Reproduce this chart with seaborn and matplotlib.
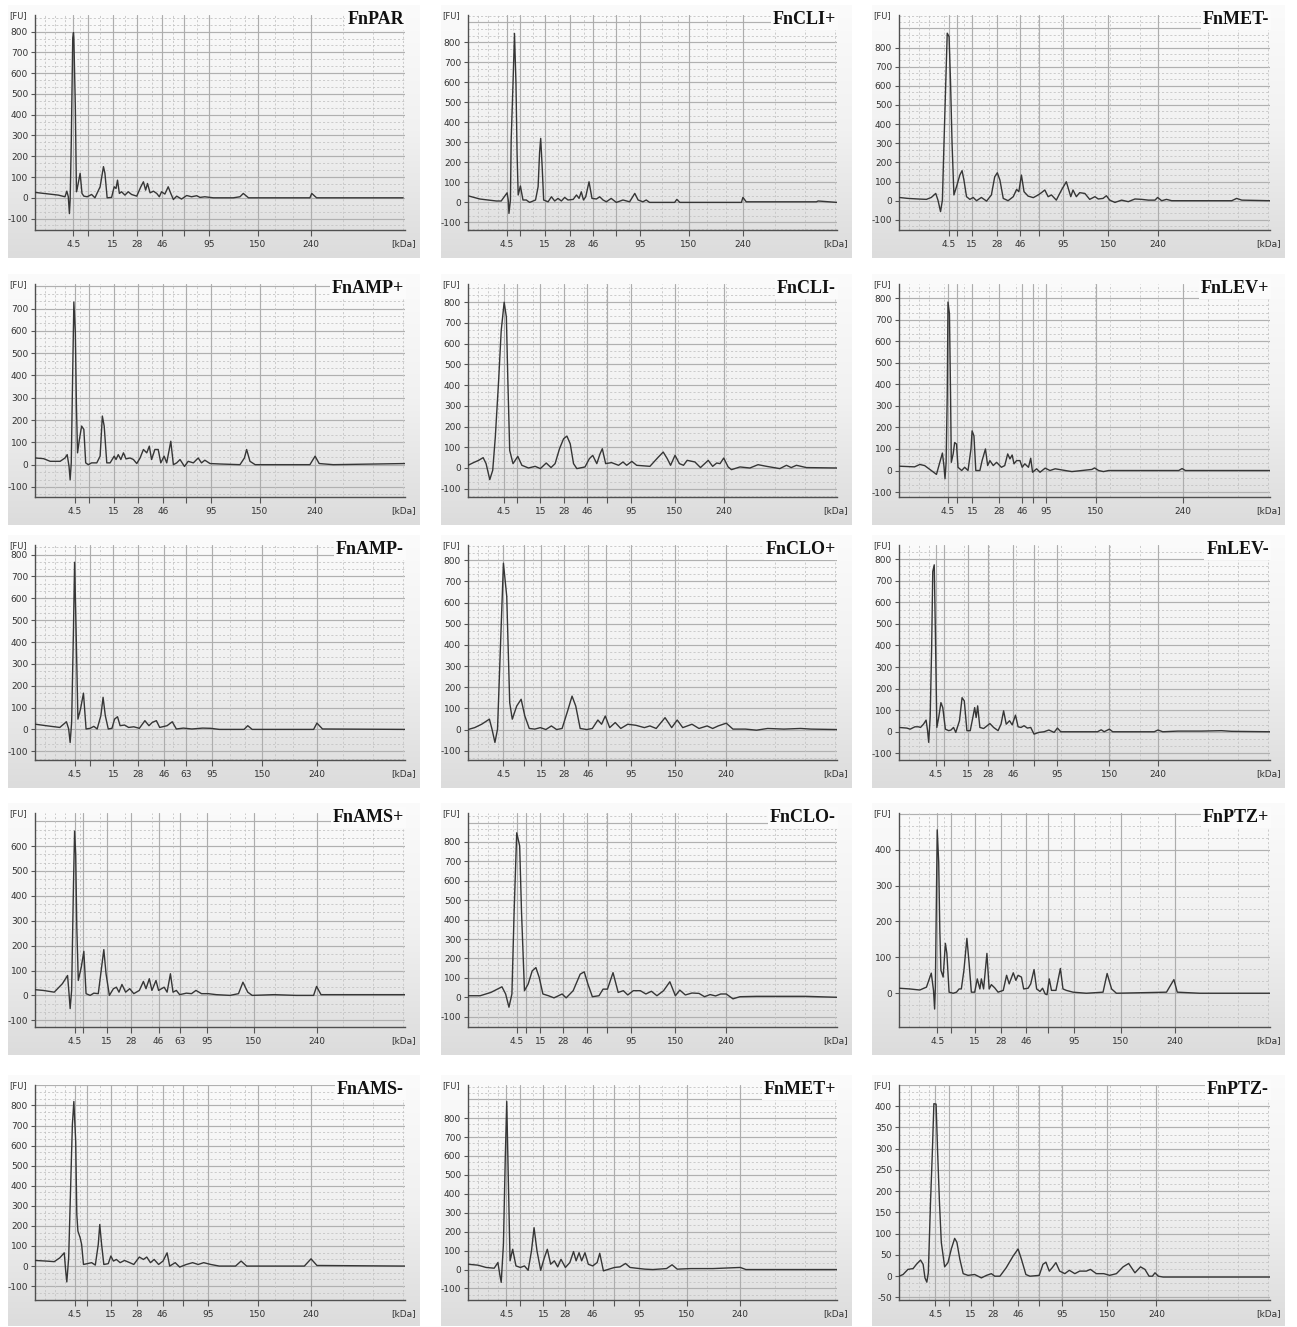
import numpy as np
import pandas as pd
import matplotlib
matplotlib.use("Agg")
import matplotlib.pyplot as plt
import seaborn as sns
from matplotlib.colors import LinearSegmentedColormap

sns.set_theme(style="white")
plt.rcParams["font.family"] = ["DejaVu Sans"]

# ---------------- data (migration position in % of run, fluorescence [FU]) -------------
fnpar = [(0,26),(6.3,13),(8.1,5),(8.6,32),(9.0,5),(9.3,-76),(9.5,-11),(9.8,263),(10.2,770),(10.4,795),(10.5,771),(10.9,440),(11.2,29),(11.5,53),(12.2,118),(12.7,21),(13.2,8),(14.1,5),(15.3,16),(16.2,0),(17.6,53),(18.5,150),(18.9,118),(19.5,0),(20.7,2),(21.4,53),(21.9,45),(22.3,85),(22.8,21),(23.4,29),(24.3,13),(25.2,29),(26.1,16),(27.5,8),(28.6,53),(29.3,77),(29.9,37),(30.4,69),(31.1,24),(32.0,32),(32.9,21),(33.6,5),(34.2,29),(35.1,18),(36.0,53),(36.7,21),(37.4,-8),(38.3,8),(39.6,-6),(41.0,11),(42.3,5),(43.7,10),(44.6,2),(45.9,5),(48.2,0),(53.6,0),(55.4,5),(56.3,21),(57.7,0),(74.3,0),(74.8,21),(76.1,0),(99.5,0)]
fncli_p = [(0,33),(3.2,17),(5.4,12),(7.7,7),(9.0,7),(10.6,48),(10.9,12),(11.1,-55),(11.5,12),(11.7,312),(12.2,595),(12.6,845),(13.0,595),(13.3,245),(13.6,37),(14.2,82),(14.9,12),(15.8,12),(16.7,0),(18.3,12),(19.0,78),(19.4,250),(19.7,320),(20.1,178),(20.5,12),(21.7,3),(22.6,28),(23.5,7),(24.4,20),(25.3,7),(26.2,25),(27.1,12),(28.5,15),(29.4,37),(30.1,20),(30.7,53),(31.3,12),(31.9,28),(32.8,103),(33.6,20),(34.8,17),(35.7,28),(36.6,12),(37.5,3),(38.8,20),(40.2,0),(42.0,12),(43.8,3),(45.2,45),(46.1,12),(47.4,3),(48.3,12),(49.2,0),(56.0,0),(56.6,15),(57.4,0),(74.1,0),(74.5,25),(75.4,3),(94.4,3),(94.9,7),(100,0)]
fnmet_m = [(0,17),(2.4,12),(5.1,9),(7.4,7),(8.7,17),(9.9,38),(10.5,3),(11.2,-57),(11.7,3),(12.1,282),(12.6,613),(13.0,875),(13.5,857),(13.9,613),(14.3,300),(14.8,30),(15.5,73),(16.4,134),(17.0,157),(17.5,108),(18.2,21),(19.1,7),(20.0,17),(20.9,0),(22.2,17),(23.6,-2),(24.9,30),(25.8,125),(26.5,146),(27.2,108),(28.1,12),(29.4,0),(30.8,21),(31.7,59),(32.3,47),(33.0,134),(33.7,47),(34.8,24),(36.2,16),(37.5,30),(38.4,42),(39.3,56),(40.2,21),(41.1,30),(42.4,3),(43.8,56),(45.1,99),(46.3,21),(46.9,56),(47.8,21),(48.7,42),(50.1,38),(51.4,7),(52.8,21),(53.7,9),(55.0,12),(55.9,26),(56.8,3),(58.2,-9),(60.0,3),(61.8,-5),(63.6,9),(65.4,7),(67.2,3),(69.0,3),(69.7,17),(70.8,0),(72.1,7),(73.5,0),(89.7,0),(91.0,12),(92.4,3),(100,0)]
fnamp_p = [(0,30),(2.3,27),(4.1,15),(6.8,15),(8.1,30),(8.7,45),(9.2,-8),(9.5,-68),(9.8,8),(10.1,323),(10.5,729),(10.9,594),(11.2,263),(11.5,53),(12.0,113),(12.6,173),(13.2,158),(13.7,8),(14.4,0),(15.3,8),(16.7,8),(17.6,38),(18.2,218),(18.7,173),(19.4,8),(20.3,8),(21.4,38),(21.9,23),(22.5,45),(23.2,23),(23.9,53),(24.6,26),(25.7,30),(26.6,23),(27.5,5),(28.4,30),(29.3,68),(30.2,53),(30.9,83),(31.5,23),(32.4,68),(33.3,68),(34.0,8),(34.9,38),(35.6,8),(36.7,105),(37.4,0),(38.3,8),(39.2,23),(40.4,-8),(41.4,15),(42.8,8),(44.1,30),(45.0,8),(45.9,20),(47.3,5),(50.0,3),(55.4,0),(56.6,30),(57.2,68),(58.1,15),(59.5,0),(74.3,0),(75.7,38),(76.8,5),(80.6,0),(100,5)]
fncli_m = [(0,13),(1.5,26),(2.9,37),(4.1,50),(4.9,21),(5.9,-56),(6.7,-11),(7.4,149),(8.3,422),(9.0,663),(9.8,800),(10.4,728),(10.8,422),(11.3,85),(12.2,21),(13.5,56),(14.6,13),(16.4,0),(18.2,8),(19.6,-3),(21.2,24),(22.5,2),(23.6,21),(24.8,93),(25.9,141),(26.8,154),(27.7,117),(28.6,21),(29.5,-3),(31.7,5),(32.9,45),(33.8,61),(34.9,21),(35.8,69),(36.4,93),(37.3,21),(38.9,26),(40.8,13),(42.0,29),(43.0,13),(44.4,32),(45.7,13),(49.3,8),(51.6,53),(52.9,77),(54.0,45),(54.9,13),(56.1,61),(57.3,21),(58.4,13),(59.4,37),(61.5,29),(63.0,2),(65.1,37),(66.3,8),(67.4,24),(68.3,21),(69.3,48),(70.5,5),(71.4,-8),(73.7,5),(76.4,0),(78.6,16),(80.9,8),(84.5,-3),(86.3,13),(87.6,2),(89.0,13),(91.7,2),(100,0)]
fnlev_p = [(0,20),(4.2,17),(5.6,28),(6.9,23),(8.7,0),(10.1,-18),(11.0,38),(11.7,81),(12.1,23),(12.4,-38),(12.7,38),(13.0,345),(13.2,782),(13.6,728),(13.9,345),(14.1,38),(14.6,77),(15.0,130),(15.5,123),(15.9,15),(16.9,0),(17.7,15),(18.6,0),(19.4,100),(19.7,184),(20.2,161),(20.7,0),(21.8,0),(22.4,46),(23.3,100),(23.9,23),(24.5,46),(25.4,23),(26.3,38),(27.6,15),(28.5,23),(29.3,77),(29.9,54),(30.5,72),(31.0,31),(31.7,46),(32.6,46),(33.2,15),(33.9,31),(34.9,15),(35.5,57),(36.0,-8),(37.1,8),(38.0,-8),(39.4,11),(40.7,0),(42.1,8),(44.8,0),(46.6,-5),(49.3,0),(52.0,5),(52.7,12),(53.8,0),(55.1,-5),(56.5,0),(75.4,0),(76.3,9),(77.2,0),(100,0)]
fnamp_m = [(0,24),(3.0,17),(6.7,9),(8.5,35),(9.1,2),(9.5,-60),(9.9,32),(10.4,460),(10.7,765),(11.1,460),(11.6,47),(12.3,93),(13.1,166),(13.8,2),(14.9,5),(15.9,14),(16.8,2),(17.8,63),(18.4,147),(19.0,63),(19.8,2),(20.8,5),(21.5,47),(22.3,58),(23.0,17),(24.2,20),(25.3,9),(26.7,12),(28.2,5),(29.7,40),(30.8,17),(31.7,32),(32.8,40),(33.7,9),(35.7,17),(37.1,35),(38.2,2),(40.1,6),(42.4,2),(45.3,6),(47.5,5),(49.8,0),(56.5,0),(57.5,17),(58.7,0),(75.3,0),(76.2,29),(77.7,2),(100,0)]
fnclo_p = [(0,0),(1.8,9),(3.7,25),(5.8,49),(6.5,2),(7.3,-61),(8.0,2),(8.8,394),(9.6,786),(10.5,629),(11.3,127),(12.0,49),(13.2,111),(14.4,143),(15.4,64),(16.6,5),(18.1,2),(19.6,9),(21.1,0),(22.6,17),(24.0,0),(25.5,5),(27.0,88),(28.2,158),(29.2,111),(30.4,5),(32.2,0),(33.7,5),(35.2,45),(36.2,25),(37.2,64),(38.4,9),(39.9,33),(41.4,5),(43.3,25),(45.5,20),(47.8,9),(49.3,17),(51.0,5),(53.4,56),(55.2,9),(56.7,45),(58.2,9),(60.7,25),(62.6,5),(64.8,17),(66.3,5),(67.8,17),(70.0,30),(71.8,2),(75.2,2),(78.2,-3),(81.2,5),(85.6,2),(90.1,5),(93.0,2),(100,0)]
fnlev_m = [(0,20),(2.1,17),(3.0,12),(4.3,23),(5.2,23),(5.8,20),(6.6,35),(7.3,54),(7.7,5),(8.0,-49),(8.4,66),(8.8,389),(9.1,743),(9.5,774),(9.8,466),(10.2,20),(10.7,66),(11.3,135),(11.8,112),(12.5,12),(13.4,5),(14.0,8),(14.7,20),(15.3,-3),(16.3,51),(17.0,158),(17.6,143),(18.3,5),(19.2,5),(19.9,66),(20.4,112),(20.8,66),(21.2,120),(21.8,20),(22.8,15),(24.5,38),(25.5,20),(26.7,5),(27.5,35),(28.2,97),(28.9,35),(29.8,51),(30.5,32),(31.4,77),(32.1,23),(32.9,20),(33.7,28),(34.6,17),(35.5,20),(36.4,-11),(37.7,-3),(39.1,0),(40.4,8),(41.8,-3),(42.7,17),(43.6,0),(53.5,0),(54.5,9),(55.3,0),(56.7,12),(57.6,0),(68.8,0),(69.8,8),(71.1,0),(75.2,3),(81.5,3),(86.9,5),(89.6,2),(100,0)]
fnams_p = [(0,23),(2.2,20),(5.2,13),(7.4,47),(8.8,80),(9.2,7),(9.5,-53),(9.9,20),(10.4,447),(10.7,660),(11.0,567),(11.3,273),(11.7,60),(12.5,113),(13.2,177),(13.8,7),(14.9,0),(15.9,9),(17.1,7),(18.0,113),(18.6,184),(19.2,87),(20.1,0),(21.2,27),(22.0,33),(22.7,13),(23.5,44),(24.5,13),(25.6,27),(26.7,7),(28.2,20),(29.3,56),(30.0,27),(30.9,67),(31.6,20),(32.7,60),(33.4,20),(34.9,33),(35.7,13),(36.6,87),(37.3,13),(38.2,20),(39.1,3),(40.9,9),(42.3,7),(43.5,20),(45.0,7),(46.8,7),(49.0,3),(52.7,0),(55.0,7),(56.2,53),(57.5,13),(58.7,0),(64.6,3),(70.6,0),(75.3,0),(76.1,36),(77.3,3),(86.9,3),(100,3)]
fnclo_m = [(0,8),(3.3,8),(6.2,25),(9.2,54),(10.2,17),(11.1,-51),(11.9,17),(12.5,441),(13.2,847),(14.0,780),(14.5,441),(15.3,34),(16.3,68),(17.4,136),(18.4,153),(19.3,102),(20.3,17),(21.8,8),(23.3,-3),(25.5,17),(26.6,-3),(28.5,34),(30.4,119),(31.5,131),(32.5,68),(33.7,3),(35.5,8),(36.6,42),(37.8,42),(39.3,127),(40.7,25),(42.1,34),(43.3,12),(44.8,34),(46.7,34),(48.2,17),(49.7,31),(51.2,8),(53.0,34),(54.7,80),(56.2,8),(57.4,37),(58.9,12),(60.7,22),(62.6,20),(64.1,3),(65.6,14),(67.1,7),(68.5,17),(70.0,17),(71.8,-8),(73.7,3),(78.2,5),(84.1,5),(91.5,5),(100,0)]
fnptz_p = [(0,14),(2.9,12),(5.6,9),(7.4,17),(8.7,56),(9.3,8),(9.6,-44),(9.8,17),(10.1,280),(10.3,455),(10.7,365),(11.0,177),(11.3,64),(11.9,45),(12.5,139),(12.9,111),(13.5,3),(14.6,0),(15.5,3),(16.2,12),(16.8,12),(17.5,64),(18.3,153),(18.9,83),(19.5,3),(20.4,3),(21.1,40),(21.8,12),(22.2,40),(22.8,12),(23.7,111),(24.3,12),(24.9,24),(25.8,15),(26.7,3),(28.1,8),(29.0,50),(29.7,26),(30.8,57),(31.5,36),(32.1,50),(33.0,45),(33.6,12),(34.8,14),(35.5,26),(36.4,66),(37.1,12),(38.0,5),(38.7,14),(39.4,-2),(39.9,-4),(40.5,40),(41.1,8),(42.3,8),(43.5,69),(44.2,12),(45.1,8),(46.9,3),(50.5,0),(55.0,3),(56.1,55),(57.3,12),(58.6,0),(72.1,3),(74.1,38),(75.0,3),(81.1,0),(100,0)]
fnams_m = [(0,28),(3.0,25),(5.2,22),(6.7,41),(7.9,66),(8.3,-25),(8.6,-79),(9.1,41),(9.5,306),(10.1,704),(10.5,820),(11.0,621),(11.3,257),(11.6,174),(12.2,141),(12.6,108),(13.1,8),(14.1,12),(15.3,17),(16.3,5),(17.1,108),(17.5,207),(18.0,108),(18.6,8),(19.8,12),(20.5,50),(21.2,25),(22.0,33),(23.0,17),(24.2,28),(25.6,17),(26.7,8),(28.2,45),(29.3,33),(30.2,45),(31.2,17),(32.2,33),(33.4,8),(34.6,25),(35.7,66),(36.4,0),(37.9,17),(39.1,-5),(40.9,8),(42.6,17),(44.1,8),(45.6,17),(47.5,8),(49.8,0),(54.2,0),(55.7,25),(57.2,0),(72.8,0),(74.6,36),(76.2,3),(100,0)]
fnmet_p = [(0,28),(2.7,23),(4.9,11),(7.1,7),(8.1,37),(8.6,-25),(9.0,-68),(9.6,133),(10.1,589),(10.5,888),(10.9,502),(11.4,46),(12.1,107),(13.0,19),(14.2,11),(15.3,19),(16.3,-4),(17.2,98),(17.9,221),(18.7,98),(19.7,-4),(20.7,63),(21.5,107),(22.4,28),(23.4,46),(24.3,14),(25.2,54),(26.4,11),(27.6,37),(28.6,95),(29.3,46),(30.1,89),(30.8,46),(31.7,89),(32.6,28),(33.8,19),(35.0,37),(35.7,86),(36.7,-7),(38.2,2),(39.7,11),(41.2,14),(42.7,32),(43.9,11),(45.6,7),(47.9,2),(50.1,0),(53.8,5),(55.3,25),(56.7,2),(60.4,5),(66.4,5),(73.8,11),(75.3,0),(100,0)]
fnptz_m = [(0,0),(1.1,4),(2.4,16),(3.8,18),(4.7,28),(5.8,38),(6.5,28),(7.0,-4),(7.5,-14),(7.9,8),(8.5,175),(9.0,295),(9.4,406),(10.0,405),(10.4,295),(10.9,175),(11.4,80),(12.3,22),(13.2,32),(14.1,64),(15.0,89),(15.6,80),(16.4,40),(17.3,6),(18.6,2),(20.4,4),(22.2,-4),(23.6,2),(24.9,6),(25.8,0),(27.2,0),(28.9,20),(30.8,48),(32.1,64),(33.0,40),(34.2,4),(35.3,0),(37.8,2),(38.8,28),(39.6,33),(40.5,12),(41.3,20),(42.3,32),(43.3,12),(44.7,6),(45.9,14),(47.4,6),(48.7,12),(50.5,12),(51.6,16),(53.2,6),(55.2,6),(56.8,2),(58.6,6),(60.4,22),(61.9,30),(63.6,8),(65.1,22),(66.3,16),(67.4,0),(68.3,0),(69.0,8),(69.9,0),(71.2,-2),(100,-2)]

# ladder (size marker) positions per sample
ladder_fnpar   = [10.4, 14.4, 21.0, 27.5, 34.4, 40.4, 47.1, 60.2, 74.6]
ladder_fncli_p = [10.6, 14.2, 20.8, 27.6, 33.9, 40.0, 46.7, 59.9, 74.5]
ladder_fnmet_m = [13.5, 15.6, 19.7, 26.3, 32.6, 37.8, 44.3, 56.4, 69.9]
ladder_fnamp_p = [10.8, 14.7, 21.4, 27.9, 34.7, 40.7, 47.6, 60.8, 75.7]
ladder_fncli_m = [9.8, 13.4, 19.6, 25.9, 32.2, 37.6, 44.2, 56.1, 69.3]
ladder_fnlev_p = [13.2, 15.5, 19.8, 27.0, 33.1, 36.2, 39.6, 53.1, 76.5]
ladder_fnamp_m = [10.7, 14.9, 21.2, 27.9, 34.9, 40.9, 47.8, 61.4, 76.2]
ladder_fnclo_p = [9.6, 15.1, 19.9, 26.0, 32.5, 37.4, 44.1, 56.2, 70.0]
ladder_fnlev_m = [9.9, 12.0, 18.6, 23.9, 30.7, 36.4, 42.5, 56.7, 69.9]
ladder_fnams_p = [10.7, 12.9, 19.5, 26.0, 33.4, 39.1, 46.4, 59.1, 76.2]
ladder_fnclo_m = [13.2, 15.6, 19.6, 25.8, 32.2, 37.8, 44.1, 56.2, 70.0]
ladder_fnptz_p = [10.3, 14.1, 20.4, 27.6, 34.2, 40.2, 47.1, 59.8, 74.4]
ladder_fnams_m = [10.7, 14.1, 20.5, 27.5, 34.5, 40.1, 46.8, 60.2, 74.6]
ladder_fnmet_p = [10.4, 14.2, 20.4, 26.4, 33.8, 39.7, 46.4, 59.3, 73.8]
ladder_fnptz_m = [9.8, 13.4, 19.3, 25.4, 32.1, 37.8, 44.0, 56.1, 69.4]

kda_labels    = ["4.5", "", "15", "28", "46", "", "95", "150", "240"]
kda_labels_63 = ["4.5", "", "15", "28", "46", "63", "95", "150", "240"]

names = ["FnPAR", "FnCLI+", "FnMET-",
         "FnAMP+", "FnCLI-", "FnLEV+",
         "FnAMP-", "FnCLO+", "FnLEV-",
         "FnAMS+", "FnCLO-", "FnPTZ+",
         "FnAMS-", "FnMET+", "FnPTZ-"]
traces = [fnpar, fncli_p, fnmet_m, fnamp_p, fncli_m, fnlev_p, fnamp_m, fnclo_p, fnlev_m,
          fnams_p, fnclo_m, fnptz_p, fnams_m, fnmet_p, fnptz_m]
ladders = [ladder_fnpar, ladder_fncli_p, ladder_fnmet_m, ladder_fnamp_p, ladder_fncli_m,
           ladder_fnlev_p, ladder_fnamp_m, ladder_fnclo_p, ladder_fnlev_m, ladder_fnams_p,
           ladder_fnclo_m, ladder_fnptz_p, ladder_fnams_m, ladder_fnmet_p, ladder_fnptz_m]
labels_sets = [kda_labels, kda_labels, kda_labels, kda_labels, kda_labels, kda_labels,
               kda_labels_63, kda_labels, kda_labels, kda_labels_63, kda_labels, kda_labels,
               kda_labels, kda_labels, kda_labels]
fu_ranges = [(-155, 880), (-138, 937), (-153, 970),
             (-145, 810), (-140, 888), (-123, 866),
             (-140, 844), (-144, 872), (-131, 866),
             (-127, 733), (-153, 949), (-94, 502),
             (-169, 902), (-161, 975), (-56, 450)]
fu_steps = [100]*14 + [50]
fu_label_max = [800, 800, 800, 700, 800, 800, 800, 800, 800, 600, 800, 400, 800, 800, 400]

# ---------------- layout -------------
W, H = 1297, 1327
fig = plt.figure(figsize=(W / 100, H / 100), dpi=100)
fig.patch.set_facecolor("white")

col_px = [(35, 405), (468, 837), (899, 1270)]
row_px = [(15, 230), (284, 497), (545, 760), (813, 1027), (1085, 1300)]

grad_cmap = LinearSegmentedColormap.from_list("g", ["#fbfbfb", "#f1f1f1", "#dcdcdc"])
minor_x = [2.7, 5.4, 8.1, 12.2, 17.6, 24.3, 31.5, 37.4, 43.7, 52.7, 56.8, 64.9, 69.8, 83.3, 91.4, 99.5]

line_col = "#363636"
text_col = "#333333"

for i, name in enumerate(names):
    r, c = divmod(i, 3)
    xl, xr = col_px[c]
    yt, yb = row_px[r]
    bl, br, bt, bb = xl - 27, xr + 15, yt - 10, min(yb + 28, H - 1)

    # panel background box with vertical gradient
    axb = fig.add_axes([bl / W, 1 - bb / H, (br - bl) / W, (bb - bt) / H])
    axb.imshow(np.linspace(0, 1, 256)[:, None], aspect="auto", cmap=grad_cmap,
               extent=[0, 1, 0, 1])
    axb.set_axis_off()
    axb.set_zorder(0)

    ax = fig.add_axes([xl / W, 1 - yb / H, (xr - xl) / W, (yb - yt) / H])
    ax.set_zorder(1)
    ax.patch.set_alpha(0)

    pos, fu = zip(*traces[i])
    df = pd.DataFrame({"pos": pos, "fu": fu})
    ymin, ymax = fu_ranges[i]
    step = fu_steps[i]

    # grid
    majors = np.arange(np.ceil(ymin / step) * step, ymax + 1e-6, step)
    minors = np.arange(np.ceil(ymin / (step / 3)) * (step / 3), ymax, step / 3)
    for v in minors:
        if np.min(np.abs(majors - v)) > 1e-3:
            ax.axhline(v, color="#c4c4c4", lw=0.6, ls=(0, (2.5, 2.5)), zorder=0)
    for v in majors:
        ax.axhline(v, color="#b0b0b0", lw=0.85, zorder=0)
    for v in minor_x:
        ax.axvline(v, color="#c4c4c4", lw=0.6, ls=(0, (2.5, 2.5)), zorder=0)
    for v in ladders[i]:
        ax.axvline(v, color="#adadad", lw=0.85, zorder=0)

    sns.lineplot(data=df, x="pos", y="fu", ax=ax, sort=False, estimator=None,
                 color=line_col, lw=1.0, zorder=3)

    ax.set_xlim(0, 100)
    ax.set_ylim(ymin, ymax)
    ax.set_xlabel("")
    ax.set_ylabel("")
    ax.grid(False)

    ax.set_xticks(ladders[i])
    ax.set_xticklabels(labels_sets[i])
    yt_vals = [v for v in majors if v <= fu_label_max[i] + 1e-6]
    ax.set_yticks(yt_vals)
    ax.set_yticklabels([f"{int(round(v))}" for v in yt_vals])
    ax.tick_params(axis="x", direction="out", length=4, width=0.8, color="#555555",
                   labelsize=6.5, labelcolor=text_col, pad=3)
    ax.tick_params(axis="y", direction="out", length=3, width=0.8, color="#555555",
                   labelsize=6.5, labelcolor=text_col, pad=2)
    ax.tick_params(bottom=True, left=True)

    for s in ["top", "right"]:
        ax.spines[s].set_visible(False)
    for s in ["left", "bottom"]:
        ax.spines[s].set_visible(True)
        ax.spines[s].set_color("#505050")
        ax.spines[s].set_linewidth(1.0)

    ax.text(-0.022, 1.0 - 1.0 / (yb - yt), "[FU]", transform=ax.transAxes, ha="right",
            va="center", fontsize=6, color=text_col)
    ax.text(1.03, -14.0 / (yb - yt), "[kDa]", transform=ax.transAxes, ha="right",
            va="center", fontsize=6.5, color=text_col)
    ax.text(0.997, 1.0 - 4.5 / (yb - yt), name, transform=ax.transAxes, ha="right",
            va="center", fontsize=13, fontweight="bold",
            family=["Liberation Serif", "DejaVu Serif"], color="#111111", zorder=5,
            bbox=dict(boxstyle="square,pad=0.1", fc="#fbfbfb", ec="none"))

fig.savefig("out.png", dpi=100, facecolor="white")
